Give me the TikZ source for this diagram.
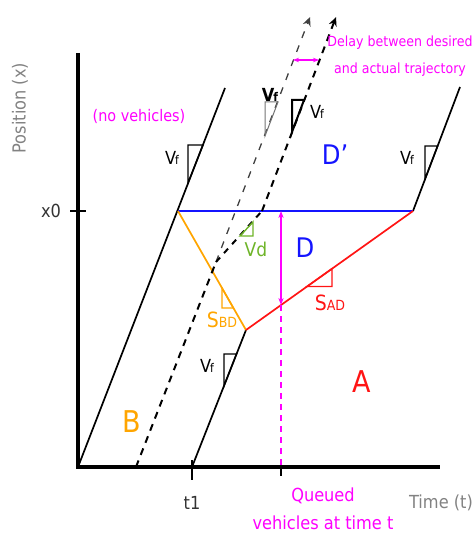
\documentclass[tikz,border=0pt]{standalone}
\usepackage{fontspec}
\setmainfont{DejaVu Sans Condensed}
\usetikzlibrary{arrows.meta}

\definecolor{trajorange}{RGB}{255,165,0}
\definecolor{trajblue}{RGB}{20,20,255}
\definecolor{trajred}{RGB}{255,20,20}
\definecolor{trajmag}{RGB}{255,0,255}
\definecolor{trajgreen}{RGB}{110,180,40}
\definecolor{axisgray}{RGB}{130,130,130}

\tikzset{
  traj/.style={line width=1.7pt},
  slopetri/.style={line width=1.4pt},
  dashtraj/.style={line width=2pt, dash pattern=on 7pt off 6pt},
  lbl/.style={inner sep=0pt, font=\fontsize{#1}{#1}\selectfont},
  lbl/.default=17
}

\begin{document}
\begin{tikzpicture}[x=1pt,y=-1pt]

\useasboundingbox (0,0) rectangle (473,534);

% Points
\coordinate (O) at (78,467);
\coordinate (ytop) at (78,53);
\coordinate (xend) at (440,467);
\coordinate (L) at (178,211);
\coordinate (R) at (413,211);
\coordinate (C) at (246,330);
\coordinate (t1) at (192,467);
\coordinate (tq) at (281,467);
\coordinate (M) at (281,211);
\coordinate (N) at (281,305);
\coordinate (S) at (136,467);
\coordinate (P) at (216,262);
\coordinate (Q) at (262,211);

% Axes
\draw[line width=3.2pt]
(ytop)
-- (O)
-- (xend);
\draw[line width=1.2pt] (70,211) -- (86,211);
\draw[line width=1.2pt] (t1) ++(0,-7) -- ++(0,20);
\draw[line width=1.2pt] (tq) ++(0,-7) -- ++(0,16);

% Trajectoires libres
\draw[traj] (O) -- (225,88);
\draw[traj] (R) -- (460,87);
\draw[traj] (t1) -- (C);

% Frontieres des zones
\draw[traj, trajblue] (L) -- (R);
\draw[traj, trajorange] (L) -- (C);
\draw[traj, trajred] (C) -- (R);

% Vehicule: desire et reel
\draw[dashtraj] (S) -- (P);
\draw[line width=1.3pt, black!75, dash pattern=on 7pt off 8pt, -{Stealth[length=9pt,width=8pt]}]
(P)
-- (310,17);
\draw[dashtraj, dash pattern=on 6pt off 6pt] (P) -- (Q);
\draw[dashtraj, -{Stealth[length=9pt,width=8pt]}]
(Q)
-- (336,17);

% Pentes
\draw[slopetri] (188,145) -- (203,145) -- (188,183) -- cycle;
\draw[slopetri] (425,146) -- (437.6,146) -- (425,179) -- cycle;
\draw[slopetri] (224,354) -- (236.5,354) -- (224,386) -- cycle;
\draw[line width=1pt, black!55] (265,102) -- (278,102) -- (265,136) -- cycle;
\draw[line width=2pt] (292,100) -- (304,100) -- (292,132) -- cycle;
\draw[slopetri, trajorange] (222,288) -- (222,308) -- (233.4,308) -- cycle;
\draw[slopetri, trajred] (307,286.5) -- (332,286.5) -- (332,268.7) -- cycle;
\draw[slopetri, trajgreen] (240,236) -- (253,236) -- (253,222) -- cycle;

% File d'attente
\draw[trajmag, line width=1.3pt, {Stealth[length=7pt]}-{Stealth[length=7pt]}]
(M)
-- (N);
\draw[trajmag, line width=1.1pt, dash pattern=on 6pt off 5pt] (N) -- (tq);

% Retard
\draw[trajmag, line width=2.2pt, {Stealth[length=6pt]}-{Stealth[length=6pt]}]
(293,60)
-- (319,60);

% Textes
\node[lbl=18, text=axisgray, rotate=90] (ylab) at (20,108) {Position (x)};
\node[lbl=18, text=black!80] (x0lab) at (51,211) {x0};
\node[lbl=18, text=black!80] (t1lab) at (192,503) {t1};
\node[lbl=18, text=axisgray] (tlab) at (441,503) {Time (t)};
\node[lbl=16, text=trajmag] (novlab) at (139,116) {(no vehicles)};
\node[lbl=14, text=trajmag, align=center, font=\fontsize{14}{27}\selectfont] (delaylab) at (400,56)
{Delay between desired\\and actual trajectory};
\node[lbl=17, text=trajmag, align=center, font=\fontsize{18}{28}\selectfont] (queuelab) at (323,509)
{Queued\\vehicles at time t};

\node[lbl=18] (vf1) at (172,158) {V\kern-1pt{\fontsize{12}{12}\selectfont f}};
\node[lbl=18] (vf2) at (407,158) {V\kern-1pt{\fontsize{12}{12}\selectfont f}};
\node[lbl=18] (vf3) at (207,366) {V\kern-1pt{\fontsize{12}{12}\selectfont f}};
\node[lbl=18, font=\bfseries\fontsize{18}{18}\selectfont] (vf4) at (270,95) {V\kern-1pt{\fontsize{12}{12}\selectfont f}};
\node[lbl=18] (vf5) at (317,112) {V\kern-1pt{\fontsize{12}{12}\selectfont f}};
\node[lbl=19, text=trajgreen] (vdlab) at (256,249) {Vd};

\node[lbl=27, text=trajblue] (dplab) at (335,155) {D'};
\node[lbl=27, text=trajblue] (dlab) at (305,248) {D};
\node[lbl=30, text=trajred] (alab) at (362,382) {A};
\node[lbl=30, text=trajorange] (blab) at (132,422) {B};
\node[lbl=21, text=trajorange] (sbdlab) at (222,320) {S{\fontsize{14}{14}\selectfont BD}};
\node[lbl=21, text=trajred] (sadlab) at (330,303) {S{\fontsize{14}{14}\selectfont AD}};

\end{tikzpicture}
\end{document}
